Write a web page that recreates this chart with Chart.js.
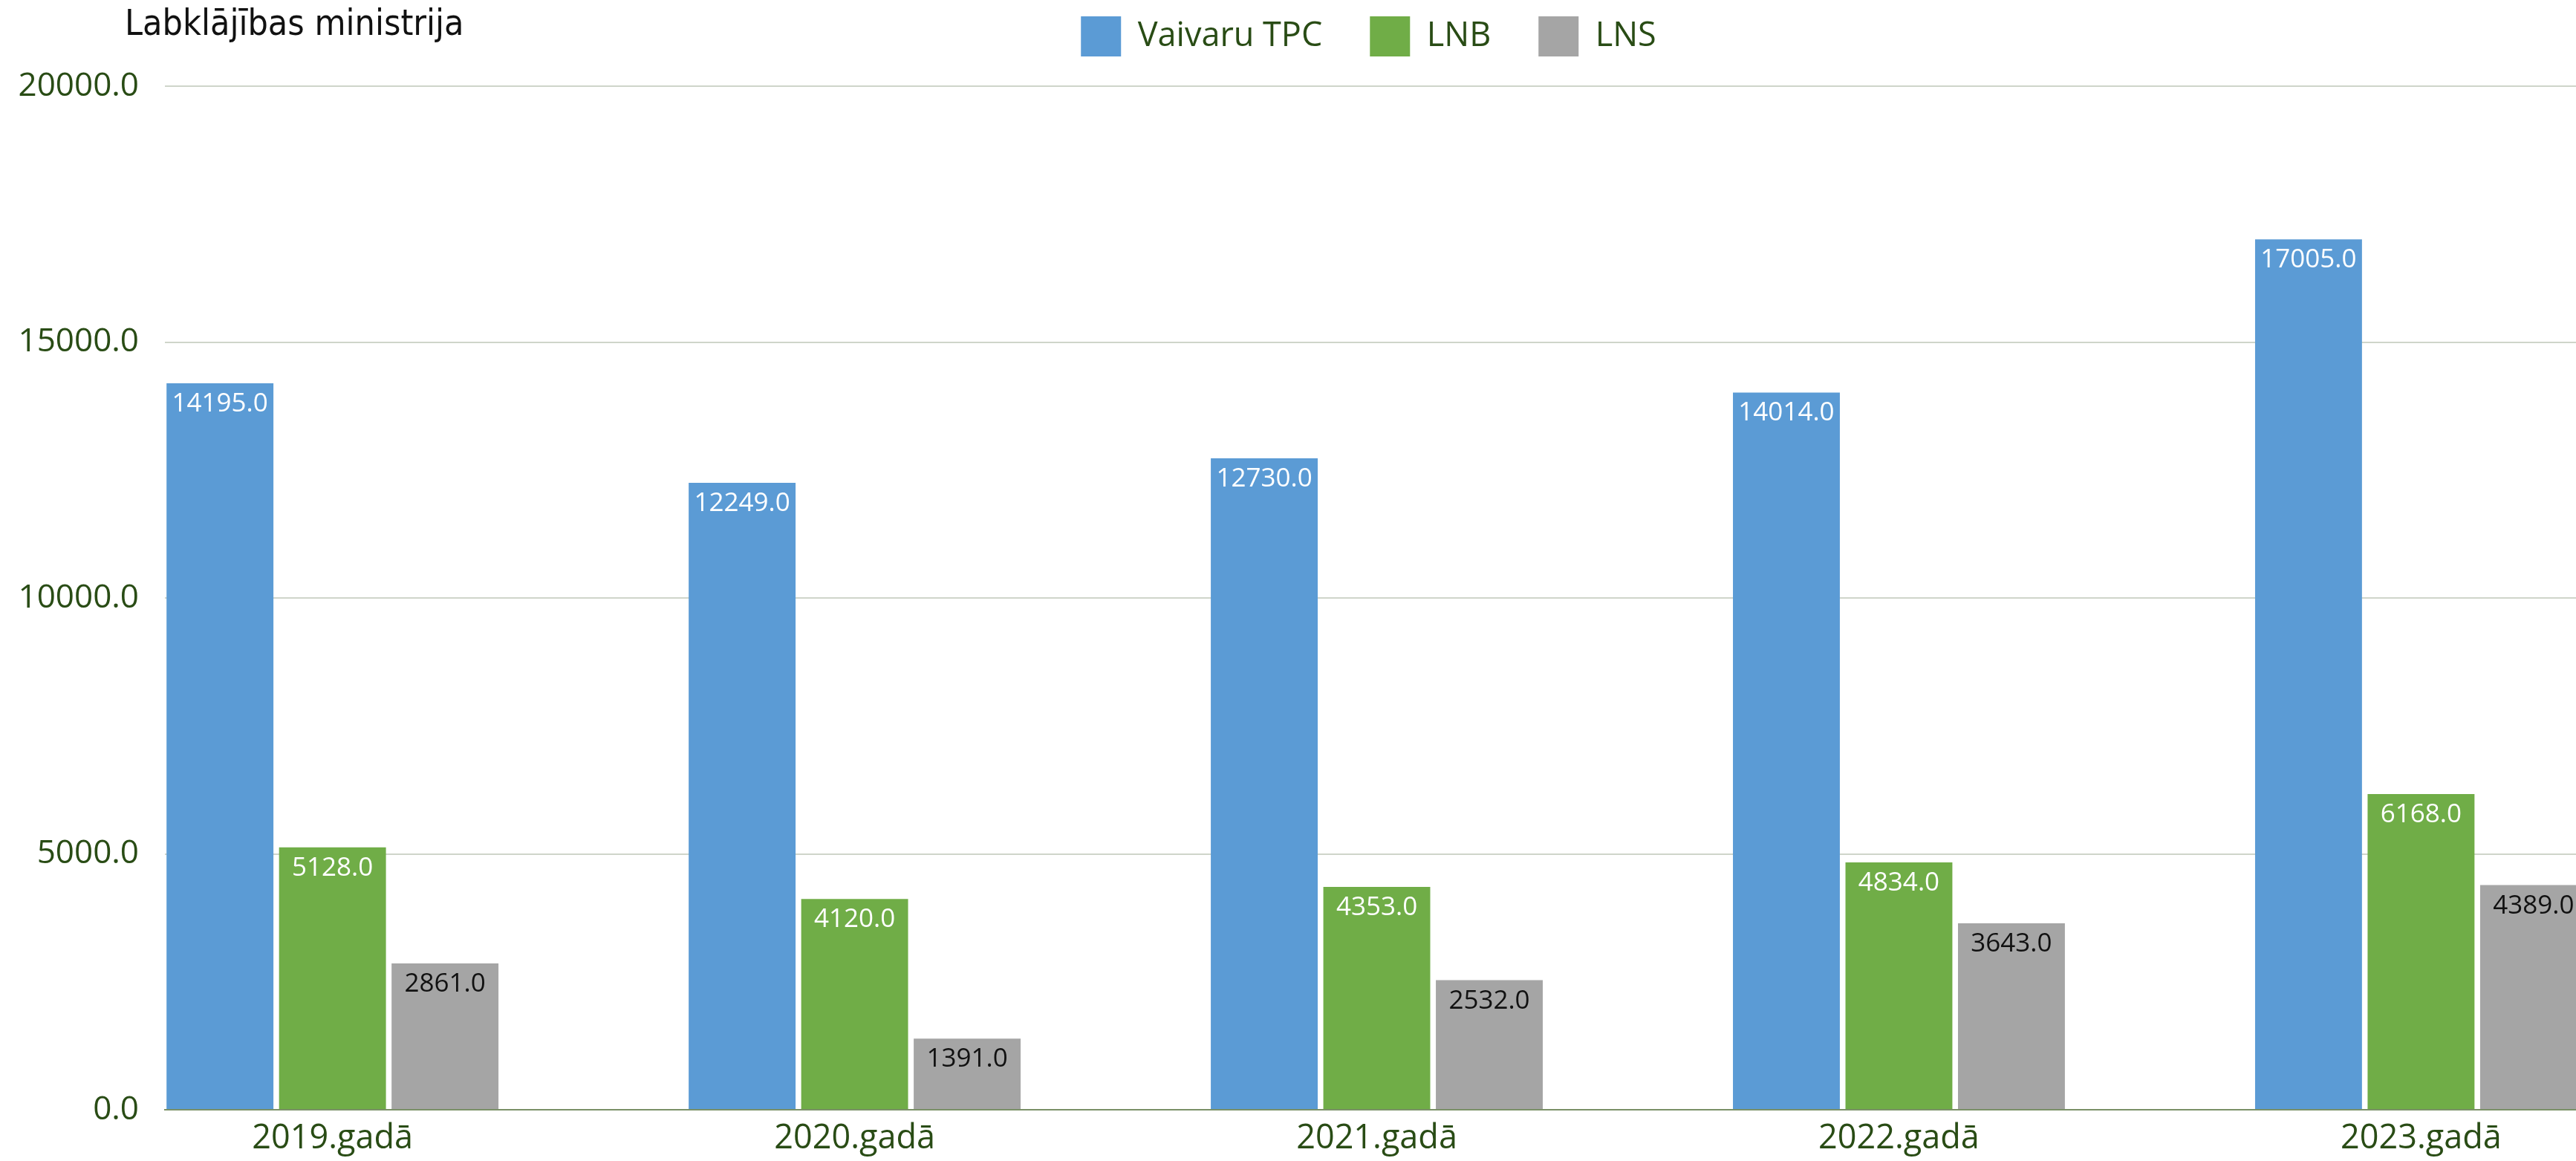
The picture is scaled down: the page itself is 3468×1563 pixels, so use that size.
<!DOCTYPE html>
<html>
<head>
<meta charset="utf-8">
<script src="https://cdn.jsdelivr.net/npm/chart.js@4.4.1/dist/chart.umd.min.js"></script>
<style>
  html, body { margin: 0; padding: 0; background: #fff; overflow: hidden; }
</style>
</head>
<body>
<canvas id="chart" width="3665" height="1563"></canvas>
<script>
// data
const years = ["2019.gadā", "2020.gadā", "2021.gadā", "2022.gadā", "2023.gadā"];
const seriesNames = ["Vaivaru TPC", "LNB", "LNS"];
const vaivaruTPC = [14195, 12249, 12730, 14014, 17005];
const lnb = [5128, 4120, 4353, 4834, 6168];
const lns = [2861, 1391, 2532, 3643, 4389];
const yTicks = [0, 5000, 10000, 15000, 20000];

const colors = ["#5b9bd5", "#70ad47", "#a5a5a5"];
const labelColors = ["#ffffff", "#ffffff", "#111111"];
const tickColor = "#294c15";
const font = "'Open Sans'";

function toPoints(values) {
  return values.map((v, i) => ({ x: i, y: v }));
}

//value labels inside the top of each bar
const barLabels = {
  id: "barLabels",
  afterDatasetsDraw(chart) {
    const ctx = chart.ctx;
    ctx.save();
    ctx.font = "35px " + font;
    ctx.textAlign = "center";
    ctx.textBaseline = "alphabetic";
    chart.data.datasets.forEach((ds, d) => {
      ctx.fillStyle = labelColors[d];
      chart.getDatasetMeta(d).data.forEach((bar, i) => {
        ctx.fillText(ds.data[i].y.toFixed(1), bar.x, bar.y + 38);
      });
    });
    ctx.restore();
  }
};

//heading in the top left corner
const heading = {
  id: "heading",
  afterDraw(chart) {
    const ctx = chart.ctx;
    ctx.save();
    ctx.font = "48px 'DejaVu Sans Condensed', 'DejaVu Sans'";
    ctx.fillStyle = "#111111";
    ctx.textAlign = "left";
    ctx.textBaseline = "alphabetic";
    ctx.fillText("Labklājības ministrija", 168, 47);
    ctx.restore();
  }
};

const ctx = document.getElementById("chart").getContext("2d");
const myChart = new Chart(ctx, {
  type: "bar",
  data: {
    datasets: [
      { label: seriesNames[0], data: toPoints(vaivaruTPC), backgroundColor: colors[0], xAxisID: "x", yAxisID: "y" },
      { label: seriesNames[1], data: toPoints(lnb), backgroundColor: colors[1], xAxisID: "x", yAxisID: "y" },
      { label: seriesNames[2], data: toPoints(lns), backgroundColor: colors[2], xAxisID: "x", yAxisID: "y" },
    ],
  },
  options: {
    responsive: false,
    animation: false,
    barPercentage: 0.95,
    categoryPercentage: 0.6465,
    layout: { padding: { top: -42, left: 20, right: 0, bottom: 3 } },
    plugins: {
      tooltip: { enabled: false },
      legend: {
        position: "top",
        align: "center",
        labels: {
          boxWidth: 54,
          boxHeight: 54,
          padding: 64,
          color: tickColor,
          font: { family: font, size: 45 },
        },
      },
    },
    scales: {
      x: {
        type: "linear",
        offset: false,
        min: -0.321,
        max: 4.577,
        grid: { display: false, drawTicks: false },
        border: { display: true, color: "#7a9067", width: 2 },
        afterBuildTicks: (s) => { s.ticks = years.map((y, i) => ({ value: i })); },
        afterFit: (s) => { s.height = 66; },
        ticks: {
          autoSkip: false,
          maxRotation: 0,
          padding: 12,
          color: tickColor,
          font: { family: font, size: 45 },
          callback: (v) => years[v],
        },
      },
      y: {
        min: 0,
        max: 20000,
        afterBuildTicks: (s) => { s.ticks = yTicks.map((v) => ({ value: v })); },
        afterFit: (s) => { s.width = 202; },
        grid: {
          drawTicks: false,
          color: (c) => (c.tick && c.tick.value === 0 ? "#7a9067" : "#cfd5ca"),
          lineWidth: 2,
        },
        border: { display: false },
        ticks: {
          padding: 35,
          color: tickColor,
          font: { family: font, size: 44 },
          callback: (v) => Number(v).toFixed(1),
        },
      },
      // empty axis, only keeps a gap between the legend and the plot
      spacer: {
        type: "linear",
        position: "top",
        grid: { display: false },
        border: { display: false },
        ticks: { display: false },
        afterFit: (s) => { s.height = 30; },
      },
    },
  },
  plugins: [barLabels, heading],
});
</script>
</body>
</html>
